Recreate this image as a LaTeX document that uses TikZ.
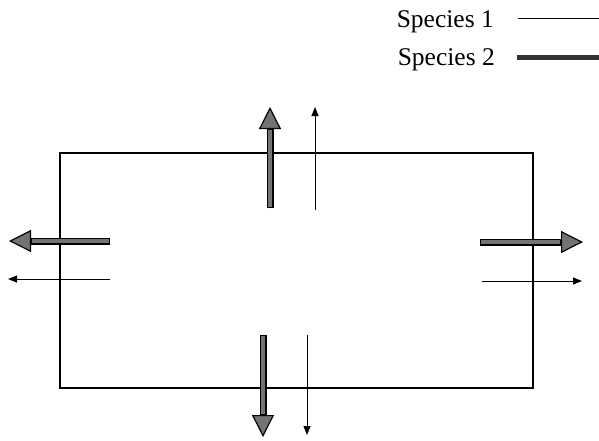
\documentclass[tikz,border=0pt]{standalone}
\usepackage{fontspec}
\setmainfont{Liberation Serif}
\usetikzlibrary{arrows.meta, positioning}

\begin{document}
\begin{tikzpicture}[x=1pt, y=-1pt,
    % Box style
    cell/.style={draw, line width=1.6pt},
    % Flux arrows: thin for species 1, fat for species 2
    thin flux/.style={
        line width=1pt, -{Triangle[width=7pt,length=9pt]},
      },
    fat flux/.style={
        line width=7pt,
        -{Triangle[width=22pt,length=22pt,line width=1.2pt,fill=black!55]},
        postaction={draw=black!55, line width=3.2pt, shorten >=23pt, shorten <=1.2pt, -},
      },
    legend text/.style={
        font=\fontsize{25.5}{30}\selectfont, anchor=base east, inner sep=0pt,
      },
  ]
  \useasboundingbox (0,0) rectangle (599,440);

  % --- Box ---
  \node[cell, minimum width=473pt, minimum height=235pt, inner sep=0pt,
        anchor=north west] (box) at (59,152) {};

  % --- Arrow end points ---
  \foreach \n/\x/\y in {top2s/270/208, top2e/270/107, top1s/315/210, top1e/315/107,
                        left2s/110/241, left2e/9/241, left1s/110/279, left1e/8/279,
                        right2s/480/242, right2e/583/242, right1s/482/281, right1e/582/281,
                        bot2s/263/335, bot2e/263/437, bot1s/307/335, bot1e/307/435} {
      \coordinate (\n) at (\x,\y);
    }

  % --- Species 2 ---
  \foreach \side in {top, left, right, bot} {
      \draw[fat flux] (\side2s) -- (\side2e);
    }
  % --- Species 1 ---
  \foreach \side in {top, left, right, bot} {
      \draw[thin flux] (\side1s) -- (\side1e);
    }

  % --- Legend ---
  \node[legend text] (sp1) at (494,27) {Species 1};
  \node[legend text] (sp2) at (495,65) {Species 2};
  \coordinate (sp1a) at (518,18);
  \coordinate (sp1b) at (599,18);
  \coordinate (sp2a) at (517,57);
  \coordinate (sp2b) at (599,57);
  \draw[line width=1pt] (sp1a) -- (sp1b);
  \draw[line width=5pt, black!80] (sp2a) -- (sp2b);
\end{tikzpicture}
\end{document}
